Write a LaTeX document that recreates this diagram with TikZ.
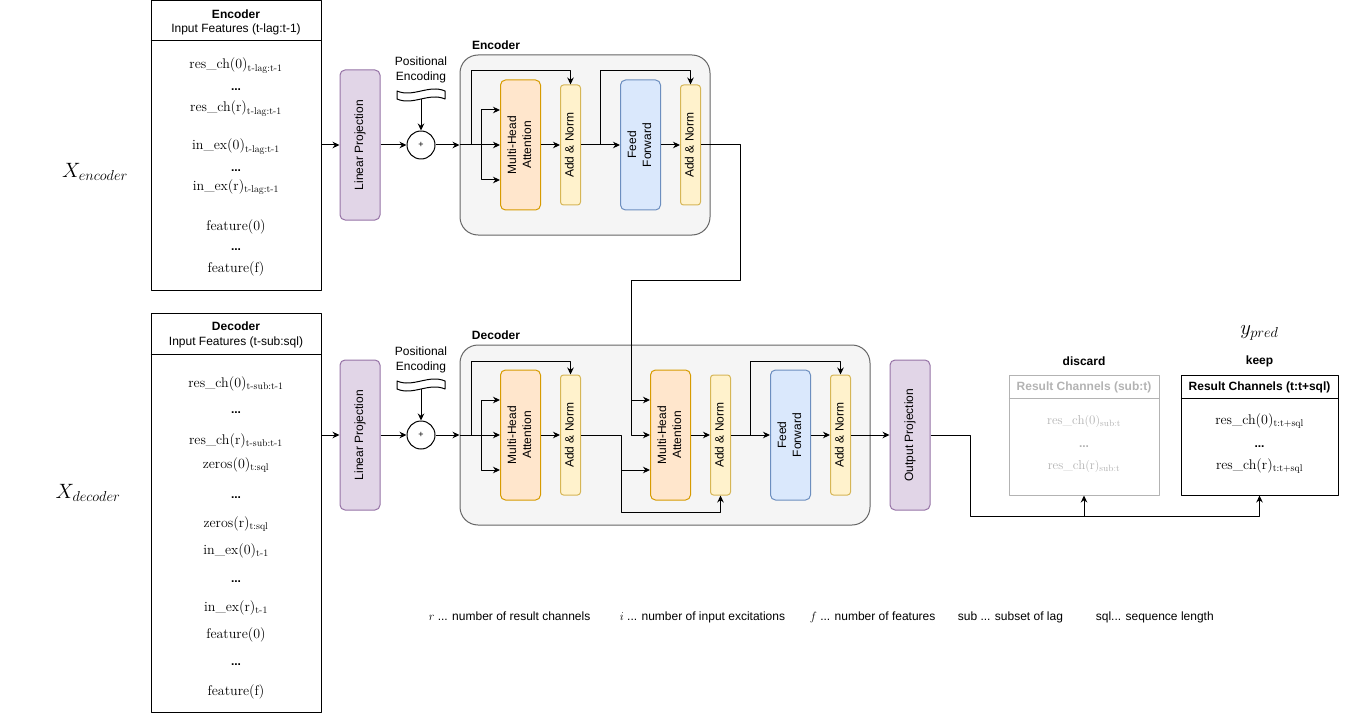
\documentclass[tikz,border=0pt]{standalone}
\usepackage{fontspec}
\setsansfont{Liberation Sans}
\usepackage{amsmath}
\usepackage{graphicx}
\usetikzlibrary{arrows.meta}
\definecolor{projfill}{HTML}{E1D5E7}
\definecolor{projline}{HTML}{9673A6}
\definecolor{attnfill}{HTML}{FFE6CC}
\definecolor{attnline}{HTML}{D79B00}
\definecolor{normfill}{HTML}{FFF2CC}
\definecolor{normline}{HTML}{D6B656}
\definecolor{fwdfill}{HTML}{DAE8FC}
\definecolor{fwdline}{HTML}{6C8EBF}
\definecolor{blockfill}{HTML}{F5F5F5}
\definecolor{blockline}{HTML}{666666}
\definecolor{dropgray}{HTML}{B3B3B3}
\newcommand{\vlabel}[1]{\rotatebox{90}{\begin{tabular}{@{}c@{}}#1\end{tabular}}}
\newcommand{\rch}[2]{$\text{res\_ch}(\text{#1})_{\text{#2}}$}
\newcommand{\inex}[2]{$\text{in\_ex}(\text{#1})_{\text{#2}}$}
\newcommand{\zer}[2]{$\text{zeros}(\text{#1})_{\text{#2}}$}
\newcommand{\feat}[1]{$\text{feature}(\text{#1})$}
\tikzset{
  sans/.style={font=\sffamily\fontsize{12}{15}\selectfont},
  sansbold/.style={font=\sffamily\bfseries\fontsize{12}{15}\selectfont},
  item/.style={anchor=base,inner sep=0pt,font=\fontsize{14}{16}\selectfont},
  dots/.style={anchor=base,inner sep=0pt,font=\sffamily\bfseries\fontsize{12}{14}\selectfont},
  inbox/.style={draw,minimum width=170},
  proj/.style={draw=projline,fill=projfill,rounded corners=5pt,minimum width=40,minimum height=150,sans,inner sep=0pt},
  attn/.style={draw=attnline,fill=attnfill,rounded corners=5pt,minimum width=40,minimum height=130,sans,inner sep=0pt},
  norm/.style={draw=normline,fill=normfill,rounded corners=3pt,minimum width=20,minimum height=120,sans,inner sep=0pt},
  fwd/.style={draw=fwdline,fill=fwdfill,rounded corners=5pt,minimum width=40,minimum height=130,sans,inner sep=0pt},
  block/.style={draw=blockline,fill=blockfill,rounded corners=18pt},
  adder/.style={draw,circle,minimum size=28,inner sep=0pt,font=\sffamily\fontsize{9}{10}\selectfont},
  arr/.style={-{Stealth[length=7pt,width=6.5pt]}},
}

\begin{document}
\begin{tikzpicture}[x=1pt,y=-1pt,line width=1pt,line join=round]
  \path[use as bounding box] (0,0) rectangle (1346,714);

  % input feature tables
  \node[inbox,minimum height=289] (encin) at (236,145.5) {};
  \draw (encin.west |- 0,41) -- (encin.east |- 0,41);
  \node[sansbold] (encinhead) at (236,14) {Encoder};
  \node[sans] (encinsub) at (236,29) {Input Features (t-lag:t-1)};
  \foreach \y/\txt [count=\i] in {69/\rch{0}{t-lag:t-1}, 112/\rch{r}{t-lag:t-1},
      150/\inex{0}{t-lag:t-1}, 190/\inex{r}{t-lag:t-1}, 230/\feat{0}, 272/\feat{f}}
    \node[item] (encrow\i) at (236,\y) {\txt};
  \foreach \y [count=\i] in {91,172,250}
    \node[dots] (encdots\i) at (236,\y) {...};

  \node[inbox,minimum height=399] (decin) at (236,512.5) {};
  \draw (decin.west |- 0,354) -- (decin.east |- 0,354);
  \node[sansbold] (decinhead) at (236,326) {Decoder};
  \node[sans] (decinsub) at (236,342) {Input Features (t-sub:sql)};
  \foreach \y/\txt [count=\i] in {387/\rch{0}{t-sub:t-1}, 444/\rch{r}{t-sub:t-1},
      468/\zer{0}{t:sql}, 527/\zer{r}{t:sql}, 554/\inex{0}{t-1}, 611/\inex{r}{t-1},
      638/\feat{0}, 695/\feat{f}}
    \node[item] (decrow\i) at (236,\y) {\txt};
  \foreach \y [count=\i] in {413,498,582,665}
    \node[dots] (decdots\i) at (236,\y) {...};

  \node[font=\fontsize{21}{24}\selectfont] (xenc) at (95,172) {$X_{encoder}$};
  \node[font=\fontsize{21}{24}\selectfont] (xdec) at (88,493) {$X_{decoder}$};

  % encoder stack
  \node[proj] (lpenc) at (360,145) {\vlabel{Linear Projection}};
  \node[adder] (sumenc) at (421,145) {+};
  \node[sans,align=center] (peenc) at (421,70) {Positional\\Encoding};
  \draw (397,91) .. controls (413,98) and (429,84) .. (445,91) -- (445,99)
    .. controls (429,92) and (413,106) .. (397,99) -- cycle;
  \coordinate (wavenc) at (421,99);
  \node[block,minimum width=250,minimum height=180] (encblk) at (585,145) {};
  \node[sansbold] (encblklbl) at (496,45) {Encoder};
  \node[attn] (mhaenc) at (520.5,145) {\vlabel{Multi-Head\\Attention}};
  \node[norm] (anenc1) at (570.5,145) {\vlabel{Add \& Norm}};
  \node[fwd] (ffenc) at (640.5,145) {\vlabel{Feed\\Forward}};
  \node[norm] (anenc2) at (690.5,145) {\vlabel{Add \& Norm}};

  % decoder stack
  \node[proj] (lpdec) at (360,435) {\vlabel{Linear Projection}};
  \node[adder] (sumdec) at (421,435) {+};
  \node[sans,align=center] (pedec) at (421,360) {Positional\\Encoding};
  \draw (397,381) .. controls (413,388) and (429,374) .. (445,381) -- (445,389)
    .. controls (429,382) and (413,396) .. (397,389) -- cycle;
  \coordinate (wavdec) at (421,389);
  \node[block,minimum width=410,minimum height=180] (decblk) at (665,435) {};
  \node[sansbold] (decblklbl) at (496,335) {Decoder};
  \node[attn] (mhadec1) at (520.5,435) {\vlabel{Multi-Head\\Attention}};
  \node[norm] (andec1) at (570.5,435) {\vlabel{Add \& Norm}};
  \node[attn] (mhadec2) at (670.5,435) {\vlabel{Multi-Head\\Attention}};
  \node[norm] (andec2) at (720.5,435) {\vlabel{Add \& Norm}};
  \node[fwd] (ffdec) at (790.5,435) {\vlabel{Feed\\Forward}};
  \node[norm] (andec3) at (840.5,435) {\vlabel{Add \& Norm}};
  \node[proj] (outproj) at (910,435) {\vlabel{Output Projection}};

  % result tables
  \node[draw=dropgray,minimum width=150,minimum height=120] (discard) at (1084,435) {};
  \draw[dropgray] (discard.west |- 0,398) -- (discard.east |- 0,398);
  \node[sansbold,text=dropgray] (discardhead) at (1084,387) {Result Channels (sub:t)};
  \node[item,text=dropgray,font=\fontsize{13}{15}\selectfont] (discardrow1) at (1084,424) {\rch{0}{sub:t}};
  \node[dots,text=dropgray] (discarddots) at (1084,447) {...};
  \node[item,text=dropgray,font=\fontsize{13}{15}\selectfont] (discardrow2) at (1084,469) {\rch{r}{sub:t}};
  \node[sansbold] (discardlbl) at (1084,361) {discard};

  \node[draw,minimum width=157,minimum height=120] (keep) at (1259.5,435) {};
  \draw (keep.west |- 0,398) -- (keep.east |- 0,398);
  \node[sansbold] (keephead) at (1259.5,387) {Result Channels (t:t+sql)};
  \node[item] (keeprow1) at (1259.5,424) {\rch{0}{t:t+sql}};
  \node[dots] (keepdots) at (1259.5,447) {...};
  \node[item] (keeprow2) at (1259.5,469) {\rch{r}{t:t+sql}};
  \node[sansbold] (keeplbl) at (1259.5,361) {keep};
  \node[font=\fontsize{21}{24}\selectfont] (ypred) at (1259.5,333) {$y_{pred}$};

  % encoder connectors
  \draw[arr] (encin.east |- lpenc) -- (lpenc.west);
  \draw[arr] (lpenc) -- (sumenc);
  \draw[arr] (wavenc) -- (sumenc);
  \draw[arr] (sumenc) -- (encblk.west);
  \draw[arr] (encblk.west) -- (mhaenc.west);
  \coordinate (encres1) at (471,145);
  \coordinate (encqk) at (481,145);
  \draw[arr] (encres1) |- (anenc1.north |- 0,71) -- (anenc1.north);
  \draw[arr] (encqk) |- ([yshift=35pt]mhaenc.west);
  \draw[arr] (encqk) |- ([yshift=-35pt]mhaenc.west);
  \draw[arr] (mhaenc) -- (anenc1);
  \draw[arr] (anenc1) -- (ffenc);
  \coordinate (encres2) at (600,145);
  \draw[arr] (encres2) |- (anenc2.north |- 0,71) -- (anenc2.north);
  \draw[arr] (ffenc) -- (anenc2);

  % encoder memory into the decoder
  \draw[arr] (anenc2.east) -| (740,280) -| (631,435) -- (mhadec2.west);
  \coordinate (memsplit) at (631,400);
  \draw[arr] (memsplit) -- ([yshift=35pt]mhadec2.west);

  % decoder connectors
  \draw[arr] (decin.east |- lpdec) -- (lpdec.west);
  \draw[arr] (lpdec) -- (sumdec);
  \draw[arr] (wavdec) -- (sumdec);
  \draw[arr] (sumdec) -- (decblk.west);
  \draw[arr] (decblk.west) -- (mhadec1.west);
  \coordinate (decres1) at (471,435);
  \coordinate (decqk) at (481,435);
  \draw[arr] (decres1) |- (andec1.north |- 0,361) -- (andec1.north);
  \draw[arr] (decqk) |- ([yshift=35pt]mhadec1.west);
  \draw[arr] (decqk) |- ([yshift=-35pt]mhadec1.west);
  \draw[arr] (mhadec1) -- (andec1);
  \coordinate (decq) at (621,470);
  \draw (andec1.east) -| (decq);
  \draw[arr] (decq) -- ([yshift=-35pt]mhadec2.west);
  \draw[arr] (decq) |- (andec2.south |- 0,512) -- (andec2.south);
  \draw[arr] (mhadec2) -- (andec2);
  \draw[arr] (andec2) -- (ffdec);
  \coordinate (decres2) at (750,435);
  \draw[arr] (decres2) |- (andec3.north |- 0,361) -- (andec3.north);
  \draw[arr] (ffdec) -- (andec3);
  \draw[arr] (andec3) -- (outproj);

  % output split
  \coordinate (outsplit) at (970,516);
  \draw[arr] (outproj.east) -| (outsplit) -| (keep.south);
  \draw[arr] (discard.south |- outsplit) -- (discard.south);

  % legend
  \node[sans,anchor=base west] (legr) at (425,620) {$r$ ... number of result channels};
  \node[sans,anchor=base west] (legi) at (616,620) {$i$ ... number of input excitations};
  \node[sans,anchor=base west] (legf) at (806,620) {$f$ ... number of features};
  \node[sans,anchor=base west] (legsub) at (954,620) {sub ... subset of lag};
  \node[sans,anchor=base west] (legsql) at (1092,620) {sql... sequence length};
\end{tikzpicture}
\end{document}
